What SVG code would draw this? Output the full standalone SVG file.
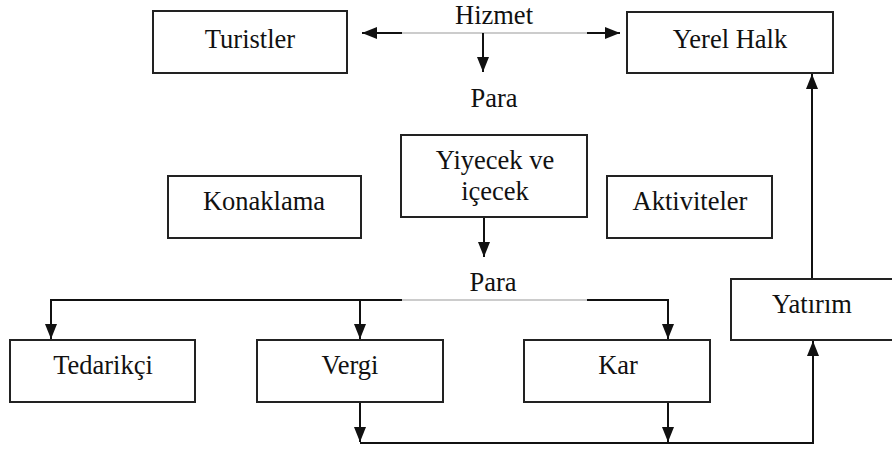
<svg xmlns="http://www.w3.org/2000/svg" width="892" height="450" viewBox="0 0 892 450">
<style>
.box{fill:#fff;stroke:#222;stroke-width:2}
text{font-family:'Liberation Serif','Times New Roman',Times,serif;font-size:26.5px;fill:#111;text-anchor:middle}
.c{fill:none;stroke:#111;stroke-width:2}
.thin{fill:none;stroke:#999;stroke-width:1}
</style>
<defs>
<marker id="ah" markerUnits="userSpaceOnUse" markerWidth="16" markerHeight="16" viewBox="0 0 16 16" refX="15" refY="8" orient="auto">
<path d="M0,2 L15,8 L0,14 Z" fill="#111"/>
</marker>
</defs>
<rect width="892" height="450" fill="#fff"/>
<g id="connectors">
<path class="c" d="M402,33 H362" marker-end="url(#ah)"/>
<path class="c" d="M587,33 H620" marker-end="url(#ah)"/>
<path class="thin" d="M402,33 H587"/>
<path class="c" d="M483,33 V72" marker-end="url(#ah)"/>
<path class="c" d="M484,218 V257" marker-end="url(#ah)"/>
<path class="c" d="M402,300 H51 V339" marker-end="url(#ah)"/>
<path class="c" d="M587,300 H668 V339" marker-end="url(#ah)"/>
<path class="thin" d="M402,300 H587"/>
<path class="c" d="M360,300 V339" marker-end="url(#ah)"/>
<path class="c" d="M360,403 V442" marker-end="url(#ah)"/>
<path class="c" d="M668,403 V442" marker-end="url(#ah)"/>
<path class="c" d="M360,443 H813 V341" marker-end="url(#ah)"/>
<path class="c" d="M812,279 V74" marker-end="url(#ah)"/>
</g>
<g id="lbl-hizmet"><text x="494" y="24">Hizmet</text></g>
<g id="lbl-para1"><text x="494" y="107">Para</text></g>
<g id="lbl-para2"><text x="493" y="291">Para</text></g>
<g id="turistler"><rect class="box" x="153" y="11" width="194" height="62"/><text x="250" y="48">Turistler</text></g>
<g id="yerel-halk"><rect class="box" x="627" y="12" width="206" height="61"/><text x="730" y="48">Yerel Halk</text></g>
<g id="yiyecek"><rect class="box" x="401" y="135" width="186" height="82"/><text x="495" y="169">Yiyecek ve</text><text x="495" y="200">içecek</text></g>
<g id="konaklama"><rect class="box" x="168" y="176" width="193" height="62"/><text x="264" y="210">Konaklama</text></g>
<g id="aktiviteler"><rect class="box" x="607" y="176" width="165" height="62"/><text x="690" y="210">Aktiviteler</text></g>
<g id="tedarikci"><rect class="box" x="10" y="340" width="185" height="62"/><text x="103" y="374">Tedarikçi</text></g>
<g id="vergi"><rect class="box" x="257" y="340" width="186" height="62"/><text x="350" y="374">Vergi</text></g>
<g id="kar"><rect class="box" x="524" y="340" width="186" height="62"/><text x="618" y="374">Kar</text></g>
<g id="yatirim"><rect class="box" x="731" y="279" width="170" height="61"/><text x="812" y="313">Yatırım</text></g>
</svg>
